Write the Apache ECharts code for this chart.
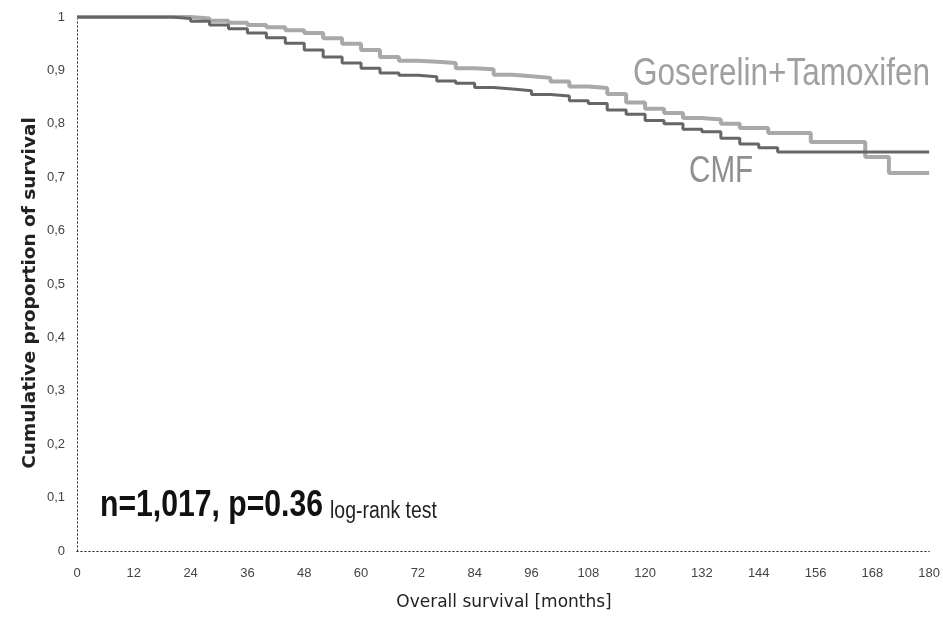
<!DOCTYPE html>
<html>
<head>
<meta charset="utf-8">
<script src="https://cdn.jsdelivr.net/npm/echarts@6/dist/echarts.min.js"></script>
<style>
html,body{margin:0;padding:0;background:#fff;}
#chart{width:943px;height:627px;}
</style>
</head>
<body>
<div id="chart"></div>
<script>
// Data
const xTicks = [0,12,24,36,48,60,72,84,96,108,120,132,144,156,168,180];
const cmfMonths = [0,20,24,28,32,36,40,44,48,52,56,60,64,68,72,76,80,84,88,92,96,100,104,108,112,116,120,124,128,132,136,140,144,148,180];
const cmfSurvival = [1,0.997,0.992,0.985,0.978,0.970,0.961,0.951,0.938,0.925,0.914,0.904,0.895,0.891,0.888,0.880,0.876,0.868,0.865,0.862,0.855,0.852,0.843,0.838,0.826,0.818,0.806,0.800,0.790,0.785,0.773,0.762,0.755,0.747,0.747];
const gtMonths = [0,24,28,32,36,40,44,48,52,56,60,64,68,72,76,80,84,88,92,96,100,104,108,112,116,120,124,128,132,136,140,146,155,166.5,171.5,180];
const gtSurvival = [1,0.997,0.993,0.989,0.985,0.981,0.975,0.970,0.960,0.950,0.938,0.925,0.918,0.916,0.914,0.904,0.902,0.892,0.889,0.886,0.879,0.870,0.867,0.856,0.840,0.828,0.820,0.811,0.808,0.800,0.792,0.783,0.766,0.738,0.708,0.708];
const seriesNames = ['Goserelin+Tamoxifen','CMF'];
const annotationMain = 'n=1,017, p=0.36';
const annotationSmall = 'log-rank test';

const chart = echarts.init(document.getElementById('chart'));
const zip = (a,b) => a.map((m,i)=>[m,b[i]]);
const sans = '"Liberation Sans",Arial,sans-serif';
const dotted = {show:true, lineStyle:{color:'#333', type:[1,3], width:1}};

chart.setOption({
  animation:false,
  backgroundColor:'#fff',
  grid:{left:77, right:10, top:17, bottom:76, containLabel:false},
  xAxis:[{
    type:'value', min:0, max:180, interval:12,
    axisLine:dotted, axisTick:{show:false}, splitLine:{show:false},
    axisLabel:{margin:16, color:'#444', fontSize:13, fontFamily:sans,
      formatter:v=> xTicks.includes(v) ? String(v) : ''}
  },{
    type:'value', min:0, max:180, position:'top',
    axisLine:dotted, axisTick:{show:false}, axisLabel:{show:false}, splitLine:{show:false}
  }],
  yAxis:[{
    type:'value', min:0, max:1, interval:0.1,
    axisLine:dotted, axisTick:{show:false}, splitLine:{show:false},
    axisLabel:{margin:12, color:'#444', fontSize:13, fontFamily:sans,
      formatter:v=> (v===0?'0': v===1?'1': v.toFixed(1).replace('.',','))}
  },{
    type:'value', min:0, max:1, position:'right',
    axisLine:dotted, axisTick:{show:false}, axisLabel:{show:false}, splitLine:{show:false}
  }],
  series:[{
    name:seriesNames[0], type:'line', step:'end', symbol:'none',
    data:zip(gtMonths,gtSurvival),
    lineStyle:{color:'#a9a9a9', width:4}
  },{
    name:seriesNames[1], type:'line', step:'end', symbol:'none',
    data:zip(cmfMonths,cmfSurvival),
    lineStyle:{color:'#666', width:3}
  }],
  graphic:[
    {type:'text', x:633, y:75, scaleX:0.83,
      style:{text:seriesNames[0], fill:'#a0a0a0', font:'38px '+sans, align:'left', verticalAlign:'middle'}},
    {type:'text', x:689, y:172, scaleX:0.8,
      style:{text:seriesNames[1], fill:'#909090', font:'37px '+sans, align:'left', verticalAlign:'middle'}},
    {type:'text', x:100, y:506, scaleX:0.815,
      style:{text:annotationMain, fill:'#111', font:'bold 37px '+sans, align:'left', verticalAlign:'middle'}},
    {type:'text', x:330, y:512, scaleX:0.845,
      style:{text:annotationSmall, fill:'#222', font:'23px '+sans, align:'left', verticalAlign:'middle'}},
    {type:'text', x:30, y:293, rotation:Math.PI/2,
      style:{text:'Cumulative proportion of survival', fill:'#222', font:'bold 18.5px "DejaVu Sans",sans-serif', align:'center', verticalAlign:'middle'}},
    {type:'text', x:504, y:603,
      style:{text:'Overall survival [months]', fill:'#222', font:'17px "DejaVu Sans",sans-serif', align:'center', verticalAlign:'middle'}}
  ]
});
</script>
</body>
</html>
